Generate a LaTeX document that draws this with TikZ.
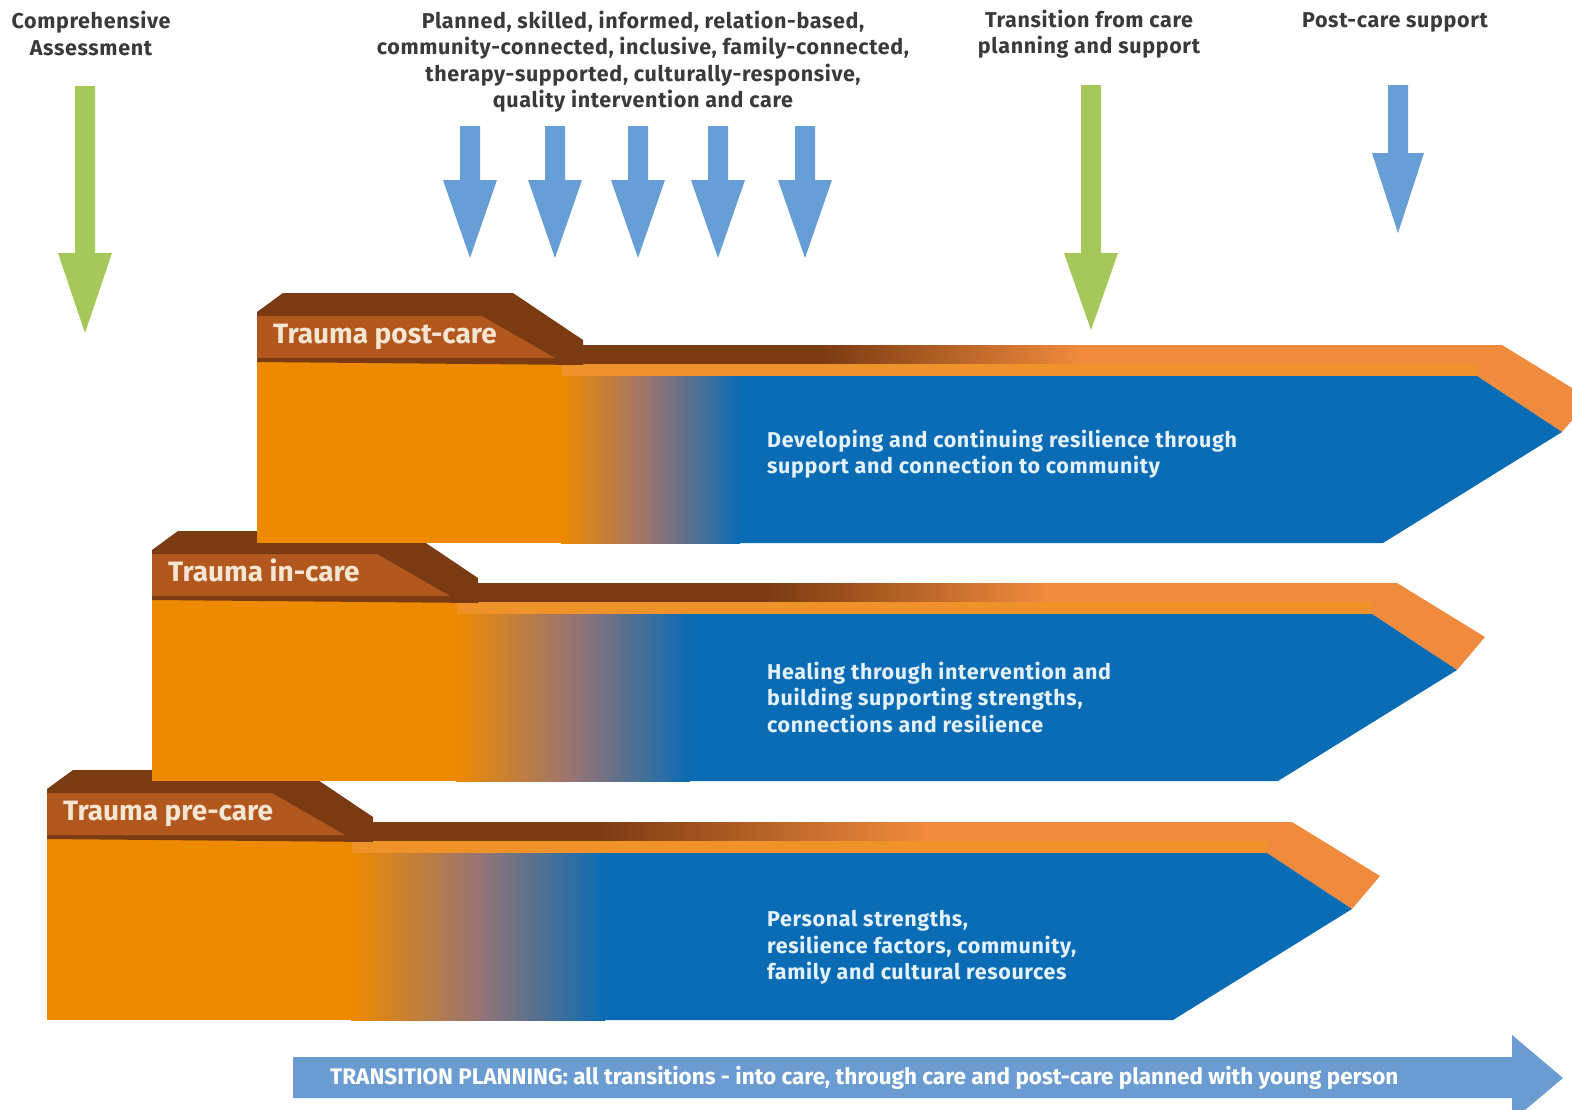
\documentclass[tikz,border=0pt]{standalone}
\usepackage{fontspec}
\setmainfont{Fira Sans}
\newfontfamily\widefont{Fira Sans}[LetterSpace=3]
\definecolor{tabdark}{RGB}{122,58,18}
\definecolor{tabfront}{RGB}{178,88,30}
\definecolor{edgeor}{RGB}{240,138,60}
\definecolor{lineor}{RGB}{240,146,42}
\definecolor{bodyor}{RGB}{238,138,0}
\definecolor{bodymid}{RGB}{152,116,114}
\definecolor{bodybl}{RGB}{10,108,180}
\definecolor{grn}{RGB}{166,200,90}
\definecolor{arrbl}{RGB}{104,158,214}
\definecolor{botbl}{RGB}{106,156,210}
\definecolor{txtgray}{RGB}{58,58,58}
\definecolor{tabtxt}{RGB}{245,230,211}
\definecolor{bodytxt}{RGB}{228,240,250}
\tikzset{
  toptext/.style={text=txtgray, font=\widefont\fontsize{21.5}{26.5}\selectfont\bfseries, align=center, inner sep=0pt},
  tablabel/.style={text=tabtxt, font=\fontsize{28}{30}\selectfont\bfseries, anchor=base west, inner sep=0pt},
  bodytext/.style={text=bodytxt, font=\widefont\fontsize{21.5}{26.5}\selectfont\bfseries, align=left, anchor=west, inner sep=0pt},
}
\newcommand{\darr}[7]{%
  \fill[#7] (#1-#5,#2) -- (#1+#5,#2) -- (#1+#5,#3) -- (#1+#6,#3) -- (#1,#4) -- (#1-#6,#3) -- (#1-#5,#3) -- cycle;}
\newcommand{\band}[8]{%
\begin{scope}[shift={(#1,#2)}]
  \fill[edgeor] (583,345) -- (1502,345) -- (1590,399) -- (1562,432) -- (1477,376) -- (583,376) -- cycle;
  \fill[tabdark] (583,345) rectangle (#5+1,365);
  \shade[left color=tabdark, right color=edgeor] (#5,345) rectangle (#6,365);
  \fill[lineor] (520,364) rectangle (1477,376.5);
  \fill[bodyor] (257,362) rectangle (#3+1,543);
  \shade[left color=bodyor, right color=bodybl, middle color=bodymid] (#3,376) rectangle (#4,543);
  \fill[bodybl] (#4-1,376) -- (1477,376) -- (1562,432) -- (1383,543) -- (#4-1,543) -- cycle;
  \fill[tabdark] (257,362) -- (257,312) -- (283,293) -- (513,293) -- (583,340) -- (583,365) -- cycle;
  \fill[tabfront] (257,316) -- (482,316) -- (555,358) -- (257,358) -- cycle;
  \node[tablabel] (#7) at (273,343) {#8};
\end{scope}}
\begin{document}
\begin{tikzpicture}[x=1pt,y=-1pt]
\useasboundingbox (0,0) rectangle (1572,1109);
\clip (0,0) rectangle (1572,1109);
\fill[white] (0,0) rectangle (1572,1109);

% bands (pre-care first so later ones overlap correctly)
\band{-210}{477}{561}{815}{805}{1135}{tabpre}{Trauma pre-care}
\band{-105}{238}{561}{795}{870}{1150}{tabin}{Trauma in-care}
\band{0}{0}{561}{740}{820}{1080}{tabpost}{Trauma post-care}

% body texts
\node[bodytext] (txtpost) at (767,454) {Developing and continuing resilience through\\support and connection to community};
\node[bodytext] (txtin) at (767,697) {Healing through intervention and\\building supporting strengths,\\connections and resilience};
\node[bodytext] (txtpre) at (767,947.5) {Personal strengths,\\resilience factors, community,\\family and cultural resources};

% top labels
\node[toptext] (lblassess) at (91,33.5) {Comprehensive\\Assessment};
\node[toptext] (lblplanned) at (643,61.5) {Planned, skilled, informed, relation-based,\\community-connected, inclusive, family-connected,\\therapy-supported, culturally-responsive,\\quality intervention and care};
\node[toptext] (lbltrans) at (1089,34) {Transition from care\\planning and support};
\node[toptext] (lblpost) at (1395,22) {Post-care support};

% down arrows
\darr{85}{86}{253}{333}{10}{27}{grn}
\darr{1091}{85}{253}{330}{10}{27}{grn}
\darr{470}{126}{180}{258}{10}{27}{arrbl}
\darr{555}{126}{180}{258}{10}{27}{arrbl}
\darr{638}{126}{180}{258}{10}{27}{arrbl}
\darr{718}{126}{180}{258}{10}{27}{arrbl}
\darr{805}{126}{180}{258}{10}{27}{arrbl}
\darr{1398}{85}{153}{233}{10}{26}{arrbl}

% bottom transition arrow
\fill[botbl] (293,1057) -- (1512,1057) -- (1512,1035) -- (1563,1078) -- (1512,1121) -- (1512,1098) -- (293,1098) -- cycle;
\node[anchor=west, inner sep=0pt, text=white, font=\fontsize{22.5}{24}\selectfont\bfseries] (lbltp) at (330,1078)
  {TRANSITION PLANNING: all transitions - into care, through care and post-care planned with young person};
\end{tikzpicture}
\end{document}
